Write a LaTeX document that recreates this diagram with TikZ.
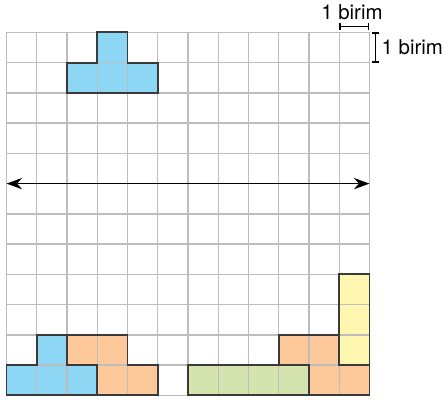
\documentclass[tikz,border=0pt]{standalone}
\usepackage{fontspec}
\setmainfont{TeX Gyre Heros}
\usepackage{xcolor}
\usetikzlibrary{arrows.meta}

\definecolor{tileblue}{HTML}{8DD7F5}
\definecolor{tileorange}{HTML}{FDC99A}
\definecolor{tilegreen}{HTML}{D5E4AE}
\definecolor{tileyellow}{HTML}{FFF7B0}
\definecolor{gridgray}{HTML}{BDBDBD}
\definecolor{edgegray}{HTML}{3A3A3A}

\begin{document}
\begin{tikzpicture}[x=0.75cm, y=0.75cm,
    unit label/.style={font=\Large, inner sep=2pt},
    tile edge/.style={edgegray, line width=1.4pt, line join=miter},
    unit bar/.style={line width=0.9pt, {Bar[width=5pt]}-{Bar[width=5pt]}}]
    \useasboundingbox (-0.215,-0.165) rectangle (14.43,13.07);

    % Tiles
    \fill[tileblue] (3,11) rectangle (4,12);
    \fill[tileblue] (2,10) rectangle (5,11);
    \fill[tileblue] (0,0) rectangle (3,1);
    \fill[tileblue] (1,1) rectangle (2,2);
    \fill[tileorange] (3,0) rectangle (5,1);
    \fill[tileorange] (2,1) rectangle (4,2);
    \fill[tilegreen] (6,0) rectangle (10,1);
    \fill[tileorange] (10,0) rectangle (12,1);
    \fill[tileorange] (9,1) rectangle (11,2);
    \fill[tileyellow] (11,1) rectangle (12,4);

    % Grid
    \draw[gridgray, line width=1pt, step=1] (0,0) grid (12,12);

    % Tile outlines
    \draw[tile edge] (3,12) -- (4,12) -- (4,11) -- (5,11) -- (5,10) -- (2,10) -- (2,11) -- (3,11) -- cycle;
    \draw[tile edge] (0,0) -- (3,0) -- (3,1) -- (2,1) -- (2,2) -- (1,2) -- (1,1) -- (0,1) -- cycle;
    \draw[tile edge] (3,0) -- (5,0) -- (5,1) -- (4,1) -- (4,2) -- (2,2) -- (2,1) -- (3,1) -- cycle;
    \draw[tile edge] (6,0) rectangle (10,1);
    \draw[tile edge] (10,0) -- (12,0) -- (12,1) -- (11,1) -- (11,2) -- (9,2) -- (9,1) -- (10,1) -- cycle;
    \draw[tile edge] (11,1) rectangle (12,4);

    % Axis line
    \coordinate (axis left) at (0,7);
    \coordinate (axis right) at (12,7);
    \draw[line width=0.9pt, {Stealth[length=11pt, width=8pt]}-{Stealth[length=11pt, width=8pt]}] (axis left) -- (axis right);

    % Unit marks
    \coordinate (hbar start) at (11,12.2);
    \coordinate (hbar end) at (12,12.2);
    \draw[unit bar] (hbar start) -- (hbar end);
    \node[unit label, anchor=south] (hunit) at (11.42,12.3) {1 birim};
    \coordinate (vbar start) at (12.2,12);
    \coordinate (vbar end) at (12.2,11);
    \draw[unit bar] (vbar start) -- (vbar end);
    \node[unit label, anchor=west] (vunit) at (12.3,11.5) {1 birim};
\end{tikzpicture}
\end{document}
